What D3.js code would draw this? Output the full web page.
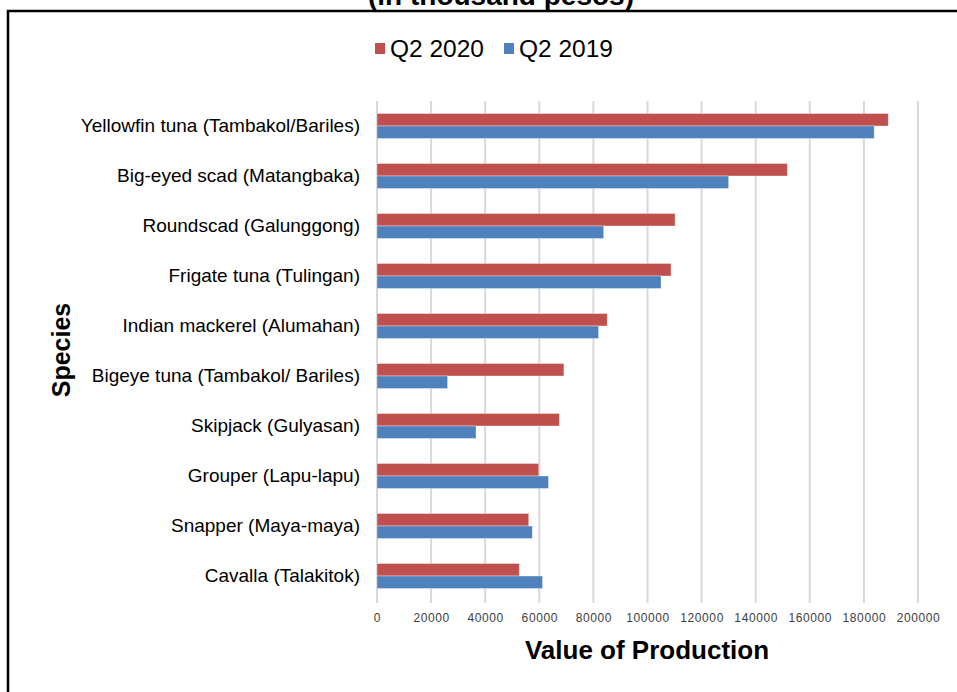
<!DOCTYPE html>
<html>
<head>
<meta charset="utf-8">
<script src="https://cdn.jsdelivr.net/npm/d3@7"></script>
<style>
  body { margin: 0; background: #fff; }
  text { font-family: "Liberation Sans", Arial, sans-serif; }
</style>
</head>
<body>
<svg class="chart" width="957" height="692"></svg>
<script>
// species, top to bottom
const species = [
    'Yellowfin tuna (Tambakol/Bariles)',
    'Big-eyed scad (Matangbaka)',
    'Roundscad (Galunggong)',
    'Frigate tuna (Tulingan)',
    'Indian mackerel (Alumahan)',
    'Bigeye tuna (Tambakol/ Bariles)',
    'Skipjack (Gulyasan)',
    'Grouper (Lapu-lapu)',
    'Snapper (Maya-maya)',
    'Cavalla (Talakitok)'
];
const seriesNames = ['Q2 2020', 'Q2 2019'];
const q2020 = [189000, 151700, 110200, 108700, 85100, 69100, 67400, 59800, 56100, 52600];
const q2019 = [183800, 130000, 83800, 105000, 81900, 26100, 36600, 63400, 57400, 61200];
const xTicks = [0, 20000, 40000, 60000, 80000, 100000, 120000, 140000, 160000, 180000, 200000];
const colors = ['#c0504d', '#4f81bd'];

var svg = d3.select('.chart');

// chart frame (runs off the right/bottom of the picture)
svg.append('rect')
    .attr('x', 8).attr('y', 11)
    .attr('width', 1000).attr('height', 720)
    .attr('fill', 'none')
    .attr('stroke', '#000')
    .attr('stroke-width', 2.5);

// title, mostly cut off at the top
svg.append('text')
    .attr('x', 501).attr('y', 5)
    .attr('text-anchor', 'middle')
    .style('font-size', '28px')
    .style('font-weight', 'bold')
    .text('(in thousand pesos)');

var margins = { top: 101, left: 377, right: 39, bottom: 91 };
const width = 957 - margins.left - margins.right;
const height = 692 - margins.top - margins.bottom;

var g = svg.append('g')
    .attr('transform', 'translate(' + margins.left + ',' + margins.top + ')');

var x = d3.scaleLinear()
    .domain([0, 200000])
    .range([0, width]);

var y = d3.scaleBand()
    .domain(species)
    .range([0, height])
    .paddingInner(0.5)
    .paddingOuter(0.25);

var ySub = d3.scaleBand()
    .domain(seriesNames)
    .range([0, y.bandwidth()]);

// vertical gridlines
g.append('g')
    .selectAll('line')
    .data(xTicks)
    .enter().append('line')
    .attr('x1', d => x(d)).attr('x2', d => x(d))
    .attr('y1', 0).attr('y2', height + 2)
    .attr('stroke', '#d9d9d9')
    .attr('stroke-width', 2);

// x axis labels
var xAxis = d3.axisBottom(x)
    .tickValues(xTicks)
    .tickFormat(d => String(d))
    .tickSize(0)
    .tickPadding(12);

g.append('g')
    .attr('transform', 'translate(0,' + height + ')')
    .call(xAxis)
    .call(a => a.select('.domain').remove())
    .selectAll('text')
    .style('font-family', '"Liberation Sans", Arial, sans-serif')
    .style('font-size', '12px')
    .style('letter-spacing', '0.6px')
    .attr('fill', '#404040');

// y axis labels
var yAxis = d3.axisLeft(y)
    .tickSize(0)
    .tickPadding(17);

g.append('g')
    .call(yAxis)
    .call(a => a.select('.domain').remove())
    .selectAll('text')
    .style('font-family', '"Liberation Sans", Arial, sans-serif')
    .style('font-size', '19px')
    .attr('fill', '#000');

// bars
const rows = species.map((s, i) => ({ name: s, values: [q2020[i], q2019[i]] }));

var groups = g.selectAll('.row')
    .data(rows)
    .enter().append('g')
    .attr('class', 'row')
    .attr('transform', d => 'translate(0,' + y(d.name) + ')');

groups.selectAll('rect')
    .data(d => d.values.map((v, j) => ({ key: seriesNames[j], value: v, j: j })))
    .enter().append('rect')
    .attr('x', 0)
    .attr('y', d => ySub(d.key))
    .attr('width', d => x(d.value))
    .attr('height', ySub.bandwidth())
    .attr('fill', d => colors[d.j])
    .attr('stroke', 'rgba(255,255,255,0.5)')
    .attr('stroke-width', 0.7);

// legend
var legend = svg.append('g')
    .attr('transform', 'translate(375,48)');

var items = legend.selectAll('g')
    .data(seriesNames)
    .enter().append('g')
    .attr('transform', (d, i) => 'translate(' + (i * 129) + ',0)');

items.append('rect')
    .attr('x', 0).attr('y', -5)
    .attr('width', 10).attr('height', 11)
    .attr('fill', (d, i) => colors[i]);

items.append('text')
    .attr('x', 15).attr('y', 0)
    .attr('dy', '0.35em')
    .style('font-size', '24.5px')
    .text(d => d);

// axis titles
svg.append('text')
    .attr('x', 647).attr('y', 659)
    .attr('text-anchor', 'middle')
    .style('font-size', '26px')
    .style('font-weight', 'bold')
    .text('Value of Production');

svg.append('text')
    .attr('transform', 'translate(70,350) rotate(-90)')
    .attr('text-anchor', 'middle')
    .style('font-size', '25px')
    .style('font-weight', 'bold')
    .text('Species');
</script>
</body>
</html>
